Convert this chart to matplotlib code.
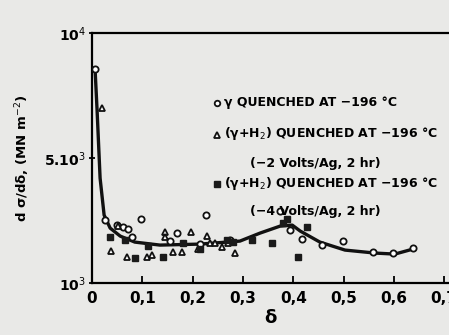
import matplotlib
matplotlib.use('Agg')
import matplotlib.pyplot as plt
import numpy as np

# smooth curve drawn through the data
curve_d = [0.006, 0.010, 0.016, 0.024, 0.036, 0.056, 0.085, 0.135, 0.215, 0.294,
           0.334, 0.374, 0.398, 0.414, 0.453, 0.503, 0.563, 0.602, 0.638]
curve_v = [8560, 6920, 4360, 3176, 2760, 2504, 2312, 2216, 2248, 2344,
           2600, 2824, 2856, 2664, 2312, 2056, 1960, 1928, 2088]

# gamma quenched at -196 C
circ_d = [0.006, 0.026, 0.097, 0.050, 0.062, 0.072, 0.080, 0.169, 0.227, 0.155,
          0.215, 0.274, 0.374, 0.394, 0.417, 0.457, 0.499, 0.559, 0.598, 0.638]
circ_v = [8560, 3016, 3048, 2856, 2792, 2728, 2472, 2600, 3176, 2344,
          2248, 2376, 3304, 2696, 2408, 2216, 2344, 1992, 1960, 2120]

# (gamma+H2), -2 V/Ag, 2 hr
tri_d = [0.020, 0.038, 0.052, 0.070, 0.109, 0.119, 0.145, 0.145, 0.161, 0.179,
         0.197, 0.211, 0.229, 0.235, 0.245, 0.258, 0.270, 0.284]
tri_v = [7000, 2024, 2824, 1832, 1832, 1896, 2632, 2472, 1992, 1992,
         2632, 2088, 2504, 2280, 2280, 2152, 2280, 1960]

# (gamma+H2), -4 V/Ag, 2 hr
sq_d = [0.036, 0.066, 0.085, 0.111, 0.141, 0.181, 0.215, 0.268, 0.280, 0.318,
        0.358, 0.380, 0.388, 0.410, 0.427]
sq_v = [2472, 2376, 1800, 2184, 1832, 2280, 2088, 2376, 2312, 2376,
        2280, 2920, 3048, 1832, 2792]

xticks = [0, 0.1, 0.2, 0.3, 0.4, 0.5, 0.6, 0.7]
xlabels = ['0', '0,1', '0,2', '0,3', '0,4', '0,5', '0,6', '0,7']
yticks = [1000, 5000, 10000]
ylabels = ['10$^3$', '5.10$^3$', '10$^4$']


# the original axis puts 5.10^3 half way between 10^3 and 10^4
def fwd(v):
    v = np.asarray(v, dtype=float)
    return np.where(v <= 5000, (v - 1000) / 8000, 0.5 + (v - 5000) / 10000)

def inv(f):
    f = np.asarray(f, dtype=float)
    return np.where(f <= 0.5, 1000 + f * 8000, 5000 + (f - 0.5) * 10000)


bg = '#e9e9e7'
ink = '#111111'
fig = plt.figure(figsize=(4.49, 3.35), dpi=100, facecolor=bg)
ax = fig.add_axes([0.205, 0.155, 0.795, 0.746], facecolor=bg)
ax.set_yscale('function', functions=(fwd, inv))

ax.plot(curve_d, curve_v, color=ink, lw=2.4, zorder=2)
ax.plot(circ_d, circ_v, 'o', ms=4.5, mfc='white', mec=ink, mew=1.3, zorder=3)
ax.plot(tri_d, tri_v, '^', ms=5, mfc='white', mec=ink, mew=1.3, zorder=3)
ax.plot(sq_d, sq_v, 's', ms=5, color='#1a1a1a', zorder=3)

ax.set_xlim(0, 0.7097)
ax.set_ylim(1000, 10000)
ax.set_xticks(xticks)
ax.set_xticklabels(xlabels, fontsize=11, fontweight='bold')
ax.set_yticks(yticks)
ax.set_yticklabels(ylabels, fontsize=10, fontweight='bold')
ax.yaxis.set_minor_locator(matplotlib.ticker.NullLocator())
ax.tick_params(axis='x', direction='in', length=5, width=1.3, pad=6)
ax.tick_params(axis='y', direction='inout', length=5, width=1.3, pad=2)
ax.spines['right'].set_visible(False)
for s in ['left', 'bottom', 'top']:
    ax.spines[s].set_linewidth(1.6)

ax.set_xlabel('δ', fontsize=13, fontweight='bold', labelpad=2)
ax.set_ylabel('d σ/dδ, (MN m$^{-2}$)', fontsize=9.5, fontweight='bold', labelpad=9)

# legend written by hand as in the original
mx = 217 / 449
tx = 224 / 449
ax.plot([mx], [1 - 103 / 335], 'o', ms=4, mfc='white', mec=ink, mew=1.3,
        transform=fig.transFigure, clip_on=False)
ax.plot([mx], [1 - 135 / 335], '^', ms=5, mfc='white', mec=ink, mew=1.3,
        transform=fig.transFigure, clip_on=False)
ax.plot([mx], [1 - 184 / 335], 's', ms=5, color='#1a1a1a',
        transform=fig.transFigure, clip_on=False)
kw = dict(fontsize=9, fontweight='bold', va='center')
fig.text(tx, 1 - 103 / 335, 'γ QUENCHED AT −196 °C', **kw)
fig.text(tx, 1 - 134 / 335, '(γ+H$_2$) QUENCHED AT −196 °C', **kw)
fig.text(250 / 449, 1 - 163 / 335, '(−2 Volts/Ag, 2 hr)', **kw)
fig.text(tx, 1 - 183 / 335, '(γ+H$_2$) QUENCHED AT −196 °C', **kw)
fig.text(250 / 449, 1 - 212 / 335, '(−4 Volts/Ag, 2 hr)', **kw)

fig.savefig('out.png', dpi=100, facecolor=bg)
